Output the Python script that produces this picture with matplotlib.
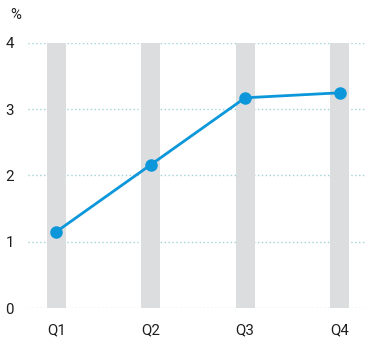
import matplotlib
matplotlib.use("Agg")
import matplotlib.pyplot as plt

quarters = ["Q1", "Q2", "Q3", "Q4"]
values = [1.15, 2.16, 3.17, 3.245]
yticks = [0, 1, 2, 3, 4]

plt.rcParams["font.family"] = ["Roboto", "DejaVu Sans"]

fig = plt.figure(figsize=(3.66, 3.42), dpi=100)
ax = fig.add_axes([0.0765, 0.0994, 0.9235, 0.7756])

x = list(range(len(quarters)))
ax.bar(x, [4] * len(x), width=0.2, color="#dcdddf", zorder=1)
for t in yticks:
    ax.axhline(t, color="#9fd3d9", lw=1, ls=(0, (1, 1.8)), zorder=0.5)
ax.plot(x, values, color="#0b97d9", lw=2, marker="o", ms=8, zorder=3)

ax.set_xlim(-0.30, 3.28)
ax.set_ylim(0, 4)
ax.set_xticks(x)
ax.set_xticklabels(quarters)
ax.set_yticks(yticks)
ax.tick_params(length=0, labelsize=10.8, colors="#1e1e1e")
ax.tick_params(axis="x", pad=11)
ax.tick_params(axis="y", pad=10)
for s in ax.spines.values():
    s.set_visible(False)

fig.text(0.028, 0.955, "%", fontsize=10.8, color="#1e1e1e", va="center")

fig.savefig("out.png", dpi=100)
